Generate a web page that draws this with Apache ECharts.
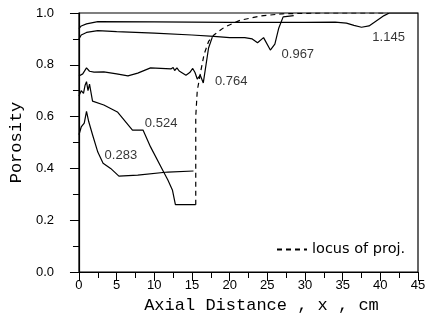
<!DOCTYPE html>
<html lang="en">
  <head>
    <meta charset="utf-8">
    <title>Porosity</title>
    <script src="https://cdn.jsdelivr.net/npm/echarts@6/dist/echarts.min.js"></script>
    <style>
      html, body { margin: 0; padding: 0; background: #fff; }
      #chart { width: 429px; height: 322px; }
    </style>
  </head>
  <body>
    <div id="chart"></div>
    <script>
      // axis ticks
      var xTicks = [0, 5, 10, 15, 20, 25, 30, 35, 40, 45];
      var yTicks = [0.0, 0.2, 0.4, 0.6, 0.8, 1.0];

      // curve 0.283
      var x283 = [0, 0.3, 0.7, 1.0, 1.3, 1.8, 2.5, 3.2, 4.2, 5.3, 7.8, 11.8, 15.2];
      var y283 = [0.53, 0.56, 0.575, 0.62, 0.58, 0.53, 0.463, 0.42, 0.40, 0.37, 0.374, 0.386, 0.39];
      // curve 0.524
      var x524 = [0, 0.3, 0.6, 0.8, 1.0, 1.2, 1.4, 1.8, 3.3, 5.1, 7.1, 8.5, 9.5, 11.1, 11.8, 12.4, 12.8, 15.5];
      var y524 = [0.68, 0.70, 0.69, 0.72, 0.735, 0.70, 0.725, 0.66, 0.645, 0.618, 0.548, 0.548, 0.483, 0.394, 0.355, 0.317, 0.26, 0.26];
      // curve 0.764
      var x764 = [0, 0.5, 1.0, 1.4, 2.0, 3.3, 5.0, 6.5, 7.8, 9.5, 12.2, 12.5, 12.7, 13.0, 13.3, 14.2, 14.7, 15.1, 15.4, 15.7, 16.1, 16.5, 17.2, 17.7];
      var y764 = [0.757, 0.765, 0.788, 0.775, 0.772, 0.773, 0.765, 0.757, 0.768, 0.788, 0.784, 0.79, 0.778, 0.788, 0.776, 0.76, 0.77, 0.786, 0.77, 0.745, 0.76, 0.73, 0.865, 0.907];
      // curve 0.967
      var x967 = [0, 0.3, 1.0, 2.5, 5, 10, 15, 17.9, 20, 22, 23, 23.7, 24.5, 25.4, 26.0, 26.5, 27.1, 28.5];
      var y967 = [0.90, 0.915, 0.925, 0.932, 0.928, 0.922, 0.915, 0.91, 0.905, 0.905, 0.90, 0.885, 0.905, 0.857, 0.88, 0.94, 0.985, 0.99];
      // curve 1.145
      var x1145 = [0, 0.3, 1.0, 2.5, 10, 20, 30, 34, 35.5, 36.5, 37.5, 38.5, 39.5, 40.5, 41.2, 45];
      var y1145 = [0.94, 0.95, 0.958, 0.967, 0.966, 0.964, 0.964, 0.965, 0.961, 0.952, 0.945, 0.95, 0.97, 0.99, 1.0, 1.0];
      // locus of projectile (dashed)
      var xLocus = [15.5, 15.5, 15.7, 16.2, 16.6, 17.2, 17.9, 19.3, 21.4, 24, 27, 32, 41];
      var yLocus = [0.26, 0.6, 0.7, 0.78, 0.84, 0.89, 0.915, 0.945, 0.972, 0.988, 0.997, 1.0, 1.0];

      // curve labels
      var labelText = ['0.283', '0.524', '0.764', '0.967', '1.145'];
      var labelX = [5.56, 10.9, 20.2, 29.05, 41.1];
      var labelY = [0.452, 0.575, 0.737, 0.842, 0.907];

      function pairs(xs, ys) {
          var out = [];
          for (var i = 0; i < xs.length; i++) out.push([xs[i], ys[i]]);
          return out;
      }

      function curve(name, xs, ys, dashed) {
          return {
              name: name,
              type: 'line',
              data: pairs(xs, ys),
              showSymbol: false,
              symbol: 'none',
              silent: true,
              itemStyle: { color: '#000' },
              lineStyle: { color: '#000', width: 1.2, type: dashed ? [5, 4] : 'solid' }
          };
      }

      var labelData = [];
      for (var i = 0; i < labelText.length; i++) {
          labelData.push([labelX[i], labelY[i], labelText[i]]);
      }

      var myChart = echarts.init(document.getElementById('chart'));
      myChart.setOption({
          animation: false,
          backgroundColor: '#fff',
          grid: {
              left: 78, right: 11, top: 13, bottom: 50,
              show: true, borderColor: '#000', borderWidth: 1.2
          },
          legend: {
              data: ['locus of proj.'],
              left: 271, top: 237,
              itemWidth: 30, itemHeight: 10, itemGap: 10,
              itemStyle: { opacity: 0 },
              textStyle: { fontFamily: 'DejaVu Sans', fontSize: 14.5, color: '#000' }
          },
          xAxis: {
              type: 'value', min: 0, max: 45, interval: 5,
              name: 'Axial Distance , x , cm',
              nameLocation: 'middle', nameGap: 24,
              nameTextStyle: { fontFamily: 'Liberation Mono', fontSize: 17, color: '#000', padding: [0, 0, 0, 26] },
              axisLine: { lineStyle: { color: '#000', width: 1.2 } },
              axisTick: { length: 9, lineStyle: { color: '#000' } },
              minorTick: { show: true, splitNumber: 2, length: 6, lineStyle: { color: '#000' } },
              axisLabel: {
                  margin: 7, color: '#000', fontFamily: 'Liberation Sans', fontSize: 13,
                  formatter: function (v) { return xTicks.indexOf(v) >= 0 ? String(v) : ''; }
              },
              splitLine: { show: false }
          },
          yAxis: {
              type: 'value', min: 0, max: 1.0, interval: 0.2,
              name: 'Porosity',
              nameLocation: 'middle', nameGap: 48,
              nameTextStyle: { fontFamily: 'Liberation Mono', fontSize: 17, color: '#000' },
              axisLine: { show: true, lineStyle: { color: '#000', width: 1.2 } },
              axisTick: { show: true, length: 9, lineStyle: { color: '#000' } },
              minorTick: { show: true, splitNumber: 2, length: 6, lineStyle: { color: '#000' } },
              axisLabel: {
                  margin: 25, color: '#000', fontFamily: 'Liberation Sans', fontSize: 13,
                  formatter: function (v) {
                      for (var k = 0; k < yTicks.length; k++) {
                          if (Math.abs(yTicks[k] - v) < 1e-6) return yTicks[k].toFixed(1);
                      }
                      return '';
                  }
              },
              splitLine: { show: false }
          },
          series: [
              curve('0.283', x283, y283, false),
              curve('0.524', x524, y524, false),
              curve('0.764', x764, y764, false),
              curve('0.967', x967, y967, false),
              curve('1.145', x1145, y1145, false),
              curve('locus of proj.', xLocus, yLocus, true),
              {
                  name: 'labels',
                  type: 'scatter',
                  symbolSize: 0,
                  silent: true,
                  data: labelData,
                  label: {
                      show: true, position: 'inside', color: '#000',
                      fontFamily: 'Liberation Sans', fontSize: 13,
                      formatter: function (p) { return p.value[2]; }
                  }
              }
          ]
      });
    </script>
  </body>
</html>
